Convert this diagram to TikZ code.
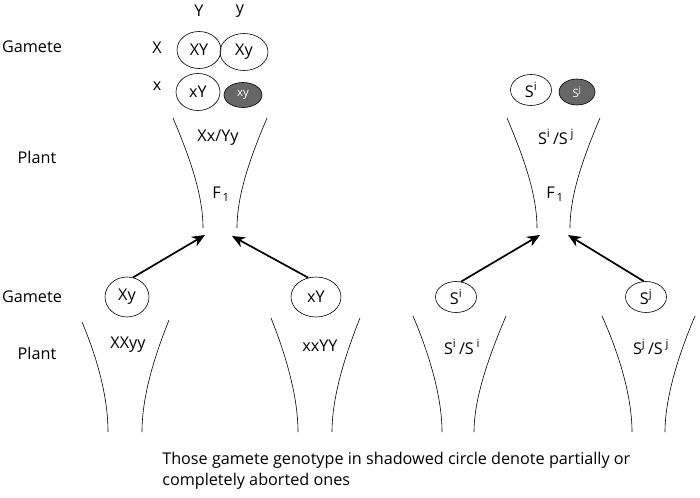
\documentclass[tikz,border=0pt]{standalone}
\usepackage{fontspec}
\setmainfont{Open Sans}
\usetikzlibrary{arrows.meta,shapes.geometric}
\definecolor{abortgris}{RGB}{102,102,102}

\begin{document}
\begin{tikzpicture}[x=1pt, y=-1pt, >=Stealth, line width=0.6pt, font=\fontsize{16.2}{21}\selectfont,
    gam/.style={draw, ellipse, inner sep=0pt, minimum width=44pt, minimum height=37pt},
    gamS/.style={gam, minimum width=41pt, minimum height=31pt},
    aborted/.style={draw, ellipse, inner sep=0pt, fill=abortgris, text=white, font=\fontsize{11.5}{13}\selectfont},
    cruce/.style={-{Stealth[length=13pt,width=11pt]}, line width=1.7pt}]
    \useasboundingbox (0,0) rectangle (700,497);
    % row labels
    \node (gamA) at (32,47) {Gamete};
    \node (plantA) at (37,157) {Plant};
    \node (gamB) at (32,297) {Gamete};
    \node (plantB) at (37,353) {Plant};
    % F1 gametes, two loci
    \node (aY) at (199,11) {Y};  \node (ay) at (240,11) {y};
    \node (aX) at (157,48) {X};  \node (ax) at (157,86) {x};
    \node[gam] (tXY) at (199,50) {XY};
    \node[gam, minimum width=48pt] (tXy) at (244,52) {Xy};
    \node[gam] (txY) at (198,92) {xY};
    \node[aborted, minimum width=38pt, minimum height=25pt] (txy) at (243,95) {xy};
    % F1 gametes, S locus
    \node[gamS] (tSi) at (531,90) {S\textsuperscript{i}};
    \node[aborted, minimum width=36pt, minimum height=26pt] (tSj) at (577,92) {S\textsuperscript{j}};
    % F1 plants
    \draw (173,118) .. controls (190,158) and (203,195) .. (203,228);
    \draw (267,118) .. controls (250,158) and (237,195) .. (237,228);
    \node (fA) at (218,138) {Xx/Yy};
    \node (fA1) at (221,194) {F\textsubscript{\,1}};
    \draw (507,118) .. controls (524,158) and (537,195) .. (537,228);
    \draw (600,118) .. controls (583,158) and (570,195) .. (570,228);
    \node (fB) at (556,137) {S\textsuperscript{i}\,/S\,\textsuperscript{j}};
    \node (fB1) at (555,194) {F\textsubscript{\,1}};
    \coordinate (tipA1) at (205,235); \coordinate (tipA2) at (232,236);
    \coordinate (tipB1) at (540,235); \coordinate (tipB2) at (568,235);
    % parental gametes
    \node[gam, minimum height=40pt] (pXy) at (127,297) {Xy};
    \node[gam, minimum width=50pt, minimum height=40pt] (pxY) at (316,297) {xY};
    \node[gamS] (pSi) at (456,297) {S\textsuperscript{i}};
    \node[gamS] (pSj) at (646,297) {S\textsuperscript{j}};
    \draw[cruce] (pXy.73) -- (tipA1);
    \draw[cruce] (pxY.112) -- (tipA2);
    \draw[cruce] (pSi.72) -- (tipB1);
    \draw[cruce] (pSj.98) -- (tipB2);
    % parental plants
    \draw (82,322) .. controls (98,360) and (108,398) .. (108,432);
    \draw (169,320) .. controls (153,360) and (142,398) .. (142,432);
    \draw (271,318) .. controls (287,358) and (298,398) .. (298,432);
    \draw (360,318) .. controls (344,358) and (332,398) .. (332,432);
    \draw (413,316) .. controls (430,356) and (442,398) .. (442,432);
    \draw (506,316) .. controls (489,356) and (474,398) .. (474,432);
    \draw (602,316) .. controls (620,356) and (632,398) .. (632,432);
    \draw (695,316) .. controls (678,356) and (665,398) .. (665,432);
    \node (pA) at (128,345) {XXyy};
    \node (pB) at (320,346) {xxYY};
    \node (pC) at (462,347) {S\textsuperscript{i}\,/S\,\textsuperscript{i}};
    \node (pD) at (651,347) {S\textsuperscript{j}\,/S\,\textsuperscript{j}};
    \node[anchor=north west, align=left, inner sep=0pt] (nota) at (162,452)
        {Those gamete genotype in shadowed circle denote partially or\\completely aborted ones};
\end{tikzpicture}
\end{document}
